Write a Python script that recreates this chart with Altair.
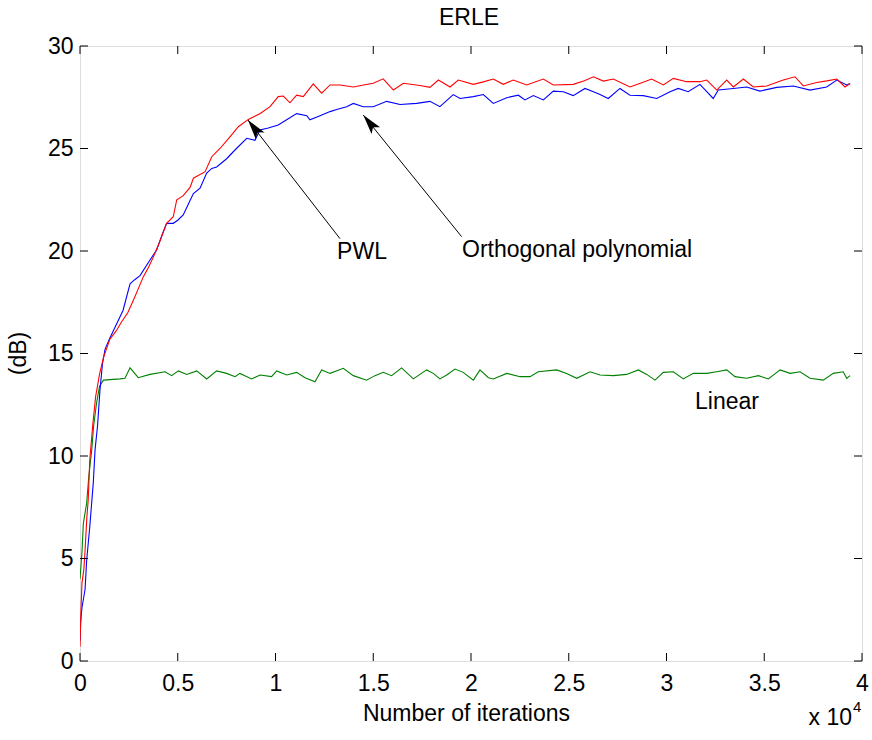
import math
import altair as alt
import pandas as pd

# ---------------- data ----------------
# x in units of 10^4 iterations, y in dB
pwl_x = [0, 0.005, 0.01, 0.02, 0.026, 0.035, 0.042, 0.05, 0.066, 0.08, 0.1, 0.12, 0.153, 0.185,
         0.213, 0.245, 0.273, 0.3, 0.324, 0.35, 0.375, 0.41, 0.443, 0.477, 0.495, 0.528, 0.563,
         0.58, 0.64, 0.674, 0.716, 0.767, 0.81, 0.861, 0.92, 0.972, 1.014, 1.04, 1.074, 1.108,
         1.142, 1.168, 1.193, 1.236, 1.279, 1.33, 1.398, 1.45, 1.5, 1.551, 1.603, 1.654, 1.739,
         1.79, 1.833, 1.893, 1.935, 2.012, 2.063, 2.114, 2.165, 2.216, 2.285, 2.37, 2.421, 2.523,
         2.58, 2.626, 2.677, 2.728, 2.813, 2.87, 2.924, 2.984, 3.035, 3.103, 3.171, 3.206, 3.257,
         3.308, 3.342, 3.393, 3.444, 3.512, 3.597, 3.657, 3.7, 3.768, 3.82, 3.871, 3.913, 3.939]
pwl_y = [0.7, 2.5, 3.8, 4.5, 5.4, 7.0, 7.85, 9.8, 11.6, 12.9, 14.0, 14.8, 15.7, 16.1,
         16.55, 17.0, 17.6, 18.2, 18.75, 19.2, 19.7, 20.5, 21.35, 21.67, 22.5, 22.7, 23.1,
         23.55, 23.87, 24.6, 25.0, 25.57, 26.06, 26.42, 26.7, 27.04, 27.53, 27.56, 27.23, 27.6,
         27.53, 27.85, 28.15, 27.7, 28.1, 28.1, 28.0, 28.1, 28.18, 28.4, 27.85, 28.18, 28.07,
         27.98, 28.34, 28.0, 28.34, 28.13, 28.25, 28.39, 28.13, 28.34, 28.1, 28.39, 28.1, 28.13,
         28.3, 28.5, 28.29, 28.39, 28.0, 28.2, 28.39, 28.1, 28.42, 28.26, 28.26, 28.34, 27.85,
         28.34, 28.0, 28.39, 28.0, 28.05, 28.34, 28.5, 28.05, 28.22, 28.3, 28.39, 28.0, 28.17]

orth_x = [0, 0.003, 0.01, 0.026, 0.034, 0.05, 0.068, 0.077, 0.09, 0.102, 0.115, 0.128, 0.15,
          0.17, 0.195, 0.22, 0.256, 0.28, 0.307, 0.358, 0.392, 0.42, 0.443, 0.477, 0.5, 0.528,
          0.555, 0.58, 0.614, 0.648, 0.674, 0.699, 0.75, 0.8, 0.853, 0.895, 0.92, 0.963, 1.014,
          1.057, 1.108, 1.16, 1.176, 1.228, 1.279, 1.313, 1.364, 1.398, 1.449, 1.5, 1.569, 1.637,
          1.722, 1.79, 1.841, 1.909, 1.944, 2.012, 2.063, 2.114, 2.183, 2.242, 2.276, 2.319, 2.37,
          2.421, 2.472, 2.523, 2.583, 2.626, 2.66, 2.702, 2.762, 2.813, 2.881, 2.95, 3.018, 3.06,
          3.111, 3.171, 3.206, 3.239, 3.265, 3.342, 3.41, 3.478, 3.564, 3.649, 3.734, 3.819,
          3.871, 3.922, 3.939]
orth_y = [1.0, 1.85, 2.6, 3.5, 4.9, 6.55, 8.7, 10.3, 11.5, 13.2, 14.5, 15.2, 15.7,
          16.1, 16.6, 17.1, 18.4, 18.6, 18.8, 19.56, 20.05, 20.8, 21.35, 21.35, 21.5, 21.76,
          22.3, 22.8, 23.06, 23.8, 24.03, 24.1, 24.5, 25.0, 25.5, 25.4, 25.9, 26.0, 26.15,
          26.4, 26.7, 26.6, 26.4, 26.6, 26.8, 26.9, 27.04, 27.2, 27.04, 27.04, 27.3, 27.15,
          27.2, 27.3, 27.04, 27.63, 27.44, 27.53, 27.63, 27.2, 27.48, 27.6, 27.37, 27.58, 27.37,
          27.8, 27.77, 27.58, 27.93, 27.77, 27.63, 27.44, 27.93, 27.6, 27.58, 27.44, 27.77, 27.93,
          27.77, 28.13, 27.77, 27.44, 27.85, 27.93, 28.0, 27.8, 27.98, 28.05, 27.85, 28.0,
          28.34, 28.1, 28.17]

lin_x = [0, 0.01, 0.017, 0.034, 0.045, 0.06, 0.07, 0.085, 0.1, 0.12, 0.205, 0.23, 0.256,
         0.298, 0.358, 0.435, 0.469, 0.503, 0.546, 0.597, 0.648, 0.699, 0.75, 0.793, 0.818,
         0.878, 0.921, 0.98, 1.006, 1.057, 1.108, 1.151, 1.202, 1.236, 1.279, 1.347, 1.398,
         1.466, 1.509, 1.551, 1.594, 1.645, 1.705, 1.773, 1.807, 1.841, 1.876, 1.918, 1.96,
         2.012, 2.046, 2.089, 2.114, 2.183, 2.251, 2.302, 2.344, 2.438, 2.489, 2.541, 2.609,
         2.66, 2.728, 2.796, 2.856, 2.899, 2.941, 2.984, 3.035, 3.086, 3.137, 3.206, 3.257,
         3.308, 3.35, 3.41, 3.47, 3.521, 3.581, 3.632, 3.683, 3.734, 3.802, 3.853, 3.904,
         3.922, 3.939]
lin_y = [4.0, 5.3, 6.7, 7.7, 9.0, 10.3, 11.5, 12.6, 13.4, 13.7, 13.76, 13.79, 14.3,
         13.82, 13.98, 14.11, 13.92, 14.15, 13.98, 14.15, 13.76, 14.15, 14.03, 13.87, 14.03,
         13.76, 13.95, 13.87, 14.15, 13.95, 14.08, 13.82, 13.62, 14.2, 14.03, 14.28, 13.92,
         13.7, 13.92, 14.08, 13.92, 14.3, 13.76, 14.2, 14.03, 13.76, 13.95, 14.24, 14.08,
         13.7, 14.2, 13.82, 13.76, 14.03, 13.87, 13.87, 14.11, 14.2, 14.03, 13.79, 14.11,
         13.95, 13.92, 13.98, 14.2, 13.98, 13.7, 14.08, 14.11, 13.76, 14.03, 14.03, 14.11,
         14.2, 13.87, 13.79, 13.92, 13.76, 14.2, 14.03, 14.11, 13.79, 13.7, 14.03, 14.11,
         13.79, 13.92]

x_ticks = [0, 0.5, 1, 1.5, 2, 2.5, 3, 3.5, 4]
y_ticks = [0, 5, 10, 15, 20, 25, 30]

# annotations: label, label position, arrow tail, arrow tip
ann_label = ["PWL", "Orthogonal polynomial", "Linear"]
ann_lx = [1.315, 1.954, 3.146]
ann_ly = [19.95, 20.05, 12.63]
arrow_tail_x = [1.33, 1.952]
arrow_tail_y = [20.6, 20.7]
arrow_tip_x = [0.859, 1.449]
arrow_tip_y = [26.39, 26.63]

# ---------------- layout / style ----------------
W, H = 782, 615
FONT = "Liberation Sans"
FS = 23
TICK = 8

xs = alt.Scale(domain=[0, 4], nice=False, zero=False)
ys = alt.Scale(domain=[0, 30], nice=False, zero=False)

x_axis = alt.Axis(values=x_ticks, format="~g", title="Number of iterations",
                  titleX=386, titleY=52, titleBaseline="middle", titleAlign="center",
                  titleFontWeight="normal", titleFontSize=FS, titleFont=FONT, titleColor="black",
                  labelFont=FONT, labelFontSize=FS, labelColor="black", labelBaseline="middle",
                  labelPadding=22, ticks=False, tickSize=0, domain=False, grid=False,
                  labelFlush=False, labelOverlap=False)
y_axis = alt.Axis(values=y_ticks, format="~g", title="(dB)",
                  titleX=-62, titleY=307, titleBaseline="middle", titleAlign="center",
                  titleAngle=270,
                  titleFontWeight="normal", titleFontSize=FS, titleFont=FONT, titleColor="black",
                  labelFont=FONT, labelFontSize=FS, labelColor="black", labelBaseline="middle",
                  labelPadding=7, ticks=False, tickSize=0, domain=False, grid=False,
                  labelFlush=False, labelOverlap=False)

X = lambda f: alt.X(f, type="quantitative", scale=xs, axis=x_axis)
Y = lambda f: alt.Y(f, type="quantitative", scale=ys, axis=y_axis)


def line_layer(xv, yv, color):
    df = pd.DataFrame({"x": xv, "y": yv})
    return alt.Chart(df).mark_line(color=color, strokeWidth=1.1, clip=True).encode(
        x=X("x"), y=Y("y"))


green = line_layer(lin_x, lin_y, "#008000")
blue = line_layer(orth_x, orth_y, "#0000ff")
red = line_layer(pwl_x, pwl_y, "#ff0000")

# inward ticks on all four sides
xt = pd.DataFrame({"x": x_ticks})
yt = pd.DataFrame({"y": y_ticks})
tick_style = dict(color="black", strokeWidth=1)
ticks_bottom = alt.Chart(xt).mark_rule(**tick_style).encode(
    x=X("x"), y=alt.value(H), y2=alt.value(H - TICK))
ticks_top = alt.Chart(xt).mark_rule(**tick_style).encode(
    x=X("x"), y=alt.value(0), y2=alt.value(TICK))
ticks_left = alt.Chart(yt).mark_rule(**tick_style).encode(
    y=Y("y"), x=alt.value(0), x2=alt.value(TICK))
ticks_right = alt.Chart(yt).mark_rule(**tick_style).encode(
    y=Y("y"), x=alt.value(W), x2=alt.value(W - TICK))

# annotation texts
lab_df = pd.DataFrame({"t": ann_label, "x": ann_lx, "y": ann_ly})
labels = alt.Chart(lab_df).mark_text(font=FONT, fontSize=FS, align="left",
                                     baseline="middle", color="black").encode(
    x=X("x"), y=Y("y"), text="t:N")

# arrows
sx, sy = W / 4.0, H / 30.0
angles = []
for tx, ty, hx, hy in zip(arrow_tail_x, arrow_tail_y, arrow_tip_x, arrow_tip_y):
    dx = (hx - tx) * sx
    dy = -(hy - ty) * sy
    angles.append((math.degrees(math.atan2(dx, -dy)) + 360) % 360)
arr_df = pd.DataFrame({"x": arrow_tail_x, "y": arrow_tail_y,
                       "x2": arrow_tip_x, "y2": arrow_tip_y, "a": angles})
arrow_lines = alt.Chart(arr_df).mark_rule(color="black", strokeWidth=1).encode(
    x=X("x"), y=Y("y"), x2="x2:Q", y2="y2:Q")
arrow_heads = alt.Chart(arr_df).mark_point(
    shape="M0,0 L0.55,2 L0,1.55 L-0.55,2 Z", size=400, filled=True,
    color="black", opacity=1, strokeWidth=0).encode(
    x=X("x2"), y=Y("y2"), angle=alt.Angle("a:Q", scale=None))

# title and "x 10^4" multiplier (pixel-placed text)
one = pd.DataFrame({"k": [0]})
title_txt = alt.Chart(one).mark_text(font=FONT, fontSize=FS, align="center",
                                     baseline="middle", color="black").encode(
    x=alt.value(389), y=alt.value(-28), text=alt.value("ERLE"))
mult_base = alt.Chart(one).mark_text(font=FONT, fontSize=FS, align="right",
                                     baseline="middle", color="black").encode(
    x=alt.value(772), y=alt.value(H + 57), text=alt.value("x 10"))
mult_exp = alt.Chart(one).mark_text(font=FONT, fontSize=15, align="left",
                                    baseline="middle", color="black").encode(
    x=alt.value(773), y=alt.value(H + 46), text=alt.value("4"))

chart = alt.layer(
    green, blue, red,
    ticks_bottom, ticks_top, ticks_left, ticks_right,
    arrow_lines, arrow_heads, labels, title_txt, mult_base, mult_exp,
).properties(
    width=W, height=H,
    autosize=alt.AutoSizeParams(type="none"),
    padding={"left": 80, "top": 46, "right": 10, "bottom": 79},
).configure_view(
    stroke="black", strokeWidth=1
).configure(background="white")

chart.save("out.html", embed_options={"renderer": "svg", "actions": False})
